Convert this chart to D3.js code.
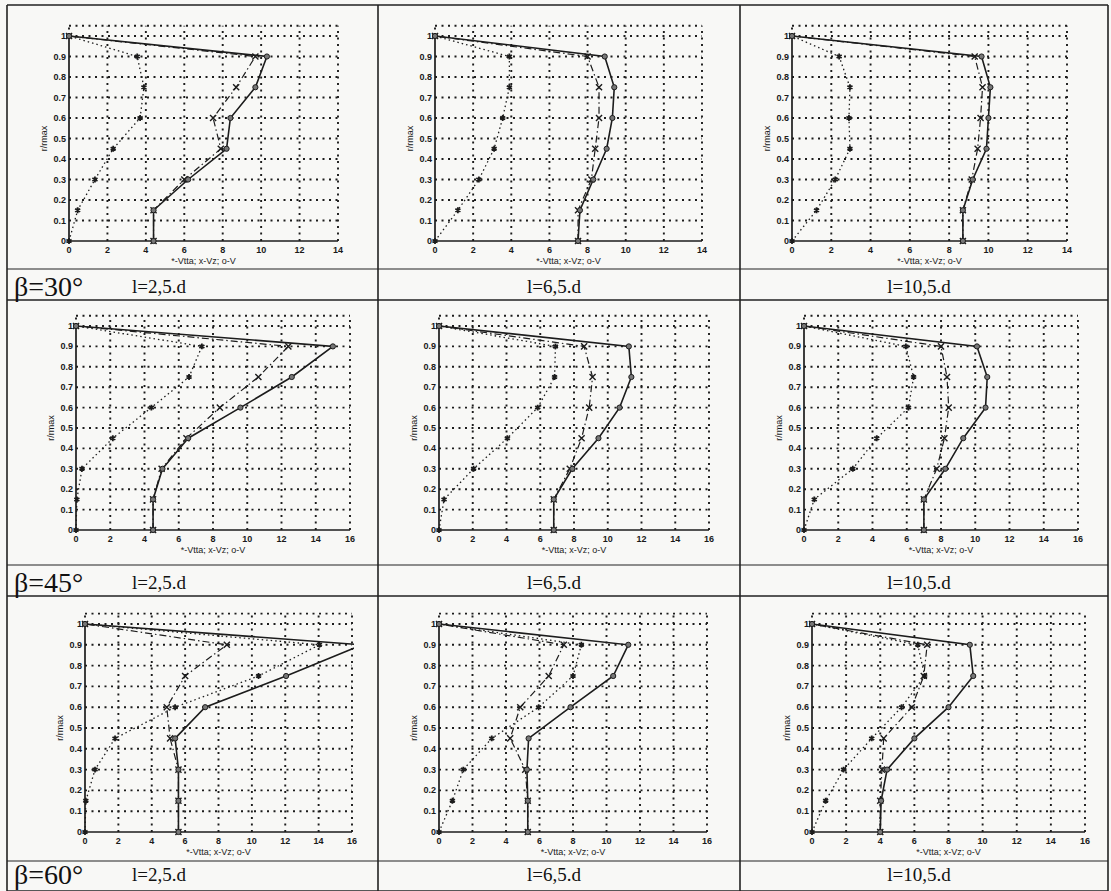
<!DOCTYPE html>
<html>
<head>
<meta charset="utf-8">
<script src="https://cdn.jsdelivr.net/npm/d3@7"></script>
<style>
body { margin: 0; background: #f8f8f6; }
svg { display: block; }
.tick { font-family: "Liberation Sans", Arial, sans-serif; font-size: 9px; font-weight: bold; fill: #1a1a1a; }
.xlab { font-family: "Liberation Sans", Arial, sans-serif; font-size: 9px; fill: #1a1a1a; }
.beta { font-family: "Liberation Serif", "Times New Roman", serif; font-size: 28px; fill: #111; }
.lcap { font-family: "Liberation Serif", "Times New Roman", serif; font-size: 19px; fill: #111; }
</style>
</head>
<body>
<script>
// table layout: one row per angle, one column per distance
var ROW_LABELS = ['β=30°', 'β=45°', 'β=60°'];
var COL_LABELS = ['l=2,5.d', 'l=6,5.d', 'l=10,5.d'];
var X_MAX = [14, 16, 16];

// r/rmax stations where the profiles were measured
var R_LEVELS = [0, 0.15, 0.3, 0.45, 0.6, 0.75, 0.9, 1];

// panels listed row by row (30° / 45° / 60°), each row 2,5.d / 6,5.d / 10,5.d
var V_TA = [
	[0, 0.45, 1.35, 2.3, 3.7, 3.9, 3.55, 0],
	[0, 1.2, 2.3, 3.1, 3.55, 3.9, 3.9, 0],
	[0, 1.25, 2.2, 2.95, 2.9, 2.95, 2.4, 0],
	[0, 0.05, 0.35, 2.15, 4.4, 6.6, 7.35, 0],
	[0, 0.3, 2.05, 4.05, 5.85, 6.85, 6.9, 0],
	[0, 0.6, 2.85, 4.25, 6.1, 6.4, 5.95, 0],
	[0, 0.05, 0.6, 1.8, 5.4, 10.4, 14.05, 0],
	[0, 0.8, 1.45, 3.15, 5.95, 8.0, 8.5, 0],
	[0, 0.8, 1.85, 3.5, 5.25, 6.6, 6.2, 0]
];
var V_Z = [
	[4.4, 4.4, 6.0, 7.9, 7.5, 8.7, 9.7, 0],
	[7.5, 7.5, 8.2, 8.4, 8.6, 8.6, 8.0, 0],
	[8.7, 8.7, 9.15, 9.45, 9.6, 9.7, 9.3, 0],
	[4.5, 4.5, 5.0, 6.45, 8.4, 10.65, 12.4, 0],
	[6.8, 6.8, 7.75, 8.45, 8.9, 9.1, 8.6, 0],
	[7.0, 7.0, 7.75, 8.2, 8.45, 8.35, 8.0, 0],
	[5.6, 5.6, 5.6, 5.1, 4.9, 6.0, 8.5, 0],
	[5.3, 5.3, 5.15, 4.25, 4.85, 6.55, 7.45, 0],
	[4.0, 4.0, 4.1, 4.2, 5.85, 6.55, 6.75, 0]
];
var V = [
	[4.4, 4.4, 6.2, 8.2, 8.4, 9.7, 10.3, 0],
	[7.5, 7.6, 8.3, 9.0, 9.3, 9.4, 8.9, 0],
	[8.7, 8.7, 9.2, 9.9, 10.0, 10.1, 9.65, 0],
	[4.5, 4.5, 5.05, 6.55, 9.6, 12.6, 15.0, 0],
	[6.8, 6.8, 7.9, 9.45, 10.7, 11.4, 11.25, 0],
	[7.0, 7.0, 8.25, 9.3, 10.6, 10.7, 10.1, 0],
	[5.6, 5.6, 5.6, 5.4, 7.2, 12.05, 16.6, 0],
	[5.3, 5.3, 5.25, 5.35, 7.85, 10.4, 11.3, 0],
	[4.0, 4.05, 4.4, 6.0, 8.0, 9.45, 9.25, 0]
];

var W = 1111, H = 891;
var COL_X = [7, 378, 740, 1108];
var ROW_Y = [5, 300, 596, 891];
var CAP_LINE = [269, 565, 861];
// pixel frame of each plot: [x at 0, x at X_MAX]
var PLOT_X = [
	[69, 338], [435, 702], [792, 1067],
	[76, 350], [439, 709], [804, 1078],
	[85, 352], [439, 707], [812, 1085]
];
// per row: [y at r=1, y at r=0]
var PLOT_Y = [[36, 241], [326, 530], [624, 832]];
var Y_TOP = 1.05;

var svg = d3.select('body').append('svg').attr('width', W).attr('height', H);
var ink = '#1c1c1c';

// table frame
var frame = svg.append('g').attr('stroke', '#222').attr('fill', 'none');
COL_X.forEach(function (x) {
	frame.append('line').attr('x1', x).attr('x2', x).attr('y1', ROW_Y[0]).attr('y2', H)
		.attr('stroke-width', 1.6);
});
ROW_Y.forEach(function (y) {
	frame.append('line').attr('x1', COL_X[0]).attr('x2', COL_X[3]).attr('y1', y).attr('y2', y)
		.attr('stroke-width', 1.6);
});
CAP_LINE.forEach(function (y) {
	frame.append('line').attr('x1', COL_X[0]).attr('x2', COL_X[3]).attr('y1', y).attr('y2', y)
		.attr('stroke-width', 1.2);
});

var sym = {
	ta: d3.symbol().type(d3.symbolAsterisk || d3.symbolCross).size(24),
	z: d3.symbol().type(d3.symbolTimes || d3.symbolCross).size(26)
};

function drawPanel(row, col) {
	var k = row * 3 + col;
	var xmax = X_MAX[row];
	var x = d3.scaleLinear().domain([0, xmax]).range(PLOT_X[k]);
	var y = d3.scaleLinear().domain([0, 1]).range([PLOT_Y[row][1], PLOT_Y[row][0]]);
	var g = svg.append('g');
	var clipId = 'clip' + k;

	g.append('clipPath').attr('id', clipId).append('rect')
		.attr('x', x(0) - 4).attr('y', y(Y_TOP) - 2)
		.attr('width', x(xmax) - x(0) + 6).attr('height', y(0) - y(Y_TOP) + 6);

	var xt = d3.range(0, xmax + 1, 2);
	var yt = d3.range(0, 11).map(function (d) { return d / 10; });

	// dotted grid and box
	var grid = g.append('g').attr('stroke', ink).attr('stroke-width', 1.9)
		.attr('stroke-dasharray', '2,4.5');
	grid.selectAll('.gx').data(xt.slice(1)).enter().append('line')
		.attr('x1', function (d) { return x(d); }).attr('x2', function (d) { return x(d); })
		.attr('y1', y(0)).attr('y2', y(Y_TOP));
	grid.selectAll('.gy').data(yt.slice(1).concat([Y_TOP])).enter().append('line')
		.attr('x1', x(0)).attr('x2', x(xmax))
		.attr('y1', function (d) { return y(d); }).attr('y2', function (d) { return y(d); });
	g.append('line').attr('x1', x(0)).attr('x2', x(0)).attr('y1', y(1)).attr('y2', y(Y_TOP))
		.attr('stroke', ink).attr('stroke-width', 1.9).attr('stroke-dasharray', '2,4.5');

	// solid axes
	g.append('line').attr('x1', x(0)).attr('x2', x(xmax)).attr('y1', y(0)).attr('y2', y(0))
		.attr('stroke', ink).attr('stroke-width', 1.7);
	g.append('line').attr('x1', x(0)).attr('x2', x(0)).attr('y1', y(0)).attr('y2', y(1))
		.attr('stroke', ink).attr('stroke-width', 1.7);

	// tick labels
	g.selectAll('.xt').data(xt).enter().append('text').attr('class', 'tick')
		.attr('x', function (d) { return x(d); }).attr('y', y(0) + 12)
		.attr('text-anchor', 'middle').text(function (d) { return d; });
	g.selectAll('.yt').data(yt).enter().append('text').attr('class', 'tick')
		.attr('x', x(0) - 3).attr('y', function (d) { return y(d) + 3; })
		.attr('text-anchor', 'end').text(function (d) { return d3.format('~g')(d); });

	g.append('text').attr('class', 'xlab')
		.attr('x', (x(0) + x(xmax)) / 2).attr('y', y(0) + 23)
		.attr('text-anchor', 'middle').text('*-Vtta; x-Vz; o-V');
	g.append('text').attr('class', 'xlab')
		.attr('transform', 'translate(' + (x(0) - 22) + ',' + ((y(0) + y(1)) / 2) + ') rotate(-90)')
		.attr('text-anchor', 'middle').text('r/rmax');

	// profiles
	var series = [
		{vals: V_TA[k], dash: '1.5,3', w: 1.3, mark: 'ta'},
		{vals: V_Z[k], dash: '7,3,1.5,3', w: 1.2, mark: 'z'},
		{vals: V[k], dash: null, w: 1.6, mark: 'o'}
	];
	var line = d3.line()
		.x(function (d) { return x(d[0]); })
		.y(function (d) { return y(d[1]); });
	var body = g.append('g').attr('clip-path', 'url(#' + clipId + ')');

	series.forEach(function (s) {
		var pts = s.vals.map(function (v, i) { return [v, R_LEVELS[i]]; });
		body.append('path').datum(pts).attr('d', line)
			.attr('fill', 'none').attr('stroke', ink).attr('stroke-width', s.w)
			.attr('stroke-dasharray', s.dash);
		var m = body.selectAll(null).data(pts).enter();
		if (s.mark == 'o') {
			m.append('circle')
				.attr('cx', function (d) { return x(d[0]); }).attr('cy', function (d) { return y(d[1]); })
				.attr('r', 2.6).attr('fill', '#777').attr('stroke', ink).attr('stroke-width', 1);
		} else {
			m.append('path').attr('d', sym[s.mark])
				.attr('transform', function (d) { return 'translate(' + x(d[0]) + ',' + y(d[1]) + ')'; })
				.attr('fill', 'none').attr('stroke', ink).attr('stroke-width', s.mark == 'ta' ? 1.8 : 1.4);
		}
	});
}

for (var r = 0; r < 3; r++) {
	for (var c = 0; c < 3; c++) drawPanel(r, c);
}

// captions under each plot
var caps = svg.append('g');
ROW_LABELS.forEach(function (t, r) {
	var base = Math.min((CAP_LINE[r] + ROW_Y[r + 1]) / 2 + 8, H - 10);
	caps.append('text').attr('class', 'beta').attr('x', 14).attr('y', base + 3).text(t);
	caps.append('text').attr('class', 'lcap').attr('x', 132).attr('y', base).text(COL_LABELS[0]);
	[1, 2].forEach(function (c) {
		caps.append('text').attr('class', 'lcap')
			.attr('x', (COL_X[c] + COL_X[c + 1]) / 2 - 5).attr('y', base)
			.attr('text-anchor', 'middle').text(COL_LABELS[c]);
	});
});
</script>
</body>
</html>
